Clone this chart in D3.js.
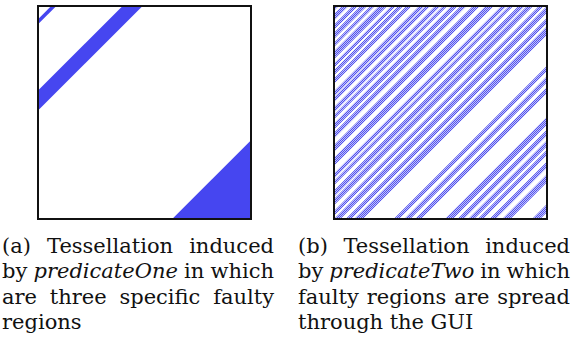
<!DOCTYPE html>
<html>
<head>
<meta charset="utf-8">
<script src="https://cdn.jsdelivr.net/npm/d3@7/dist/d3.min.js"></script>
<style>
  html, body { margin: 0; padding: 0; background: #fff; }
  svg { display: block; }
</style>
</head>
<body>
<script>
// ---- data: faulty bands in the unit square, expressed as ranges of (x + y) ----
const bandsOne = [[0.062, 0.086], [0.397, 0.491], [1.630, 2.000]];
const bandsTwo = [
  [0.000, 0.022], [0.038, 0.068], [0.088, 0.112], [0.125, 0.155], [0.172, 0.192],
  [0.212, 0.250], [0.270, 0.290], [0.302, 0.325], [0.340, 0.365], [0.400, 0.425],
  [0.430, 0.452], [0.475, 0.500], [0.512, 0.532], [0.552, 0.580], [0.595, 0.622],
  [0.652, 0.685], [0.712, 0.750], [0.786, 0.810], [0.822, 0.842], [0.866, 0.895],
  [0.906, 0.935], [0.962, 0.985],
  [1.000, 1.030], [1.055, 1.080], [1.095, 1.135], [1.280, 1.305], [1.330, 1.358],
  [1.380, 1.408], [1.520, 1.558], [1.580, 1.608], [1.630, 1.658], [1.675, 1.700],
  [1.730, 1.758], [1.790, 1.828], [1.930, 1.968]
];
const captionOne = [
  [["(a)", false], ["Tessellation", false], ["induced", false]],
  [["by", false], ["predicateOne", true], ["in", false], ["which", false]],
  [["are", false], ["three", false], ["specific", false], ["faulty", false]],
  [["regions", false]]
];
const captionTwo = [
  [["(b)", false], ["Tessellation", false], ["induced", false]],
  [["by", false], ["predicateTwo", true], ["in", false], ["which", false]],
  [["faulty", false], ["regions", false], ["are", false], ["spread", false]],
  [["through", false], ["the", false], ["GUI", false]]
];

const W = 576, H = 342;
const svg = d3.select("body").append("svg").attr("width", W).attr("height", H);
const defs = svg.append("defs");

// dotted texture of the second tessellation
const pat = defs.append("pattern").attr("id", "dots")
  .attr("patternUnits", "userSpaceOnUse").attr("width", 2).attr("height", 2);
pat.append("rect").attr("width", 2).attr("height", 2).attr("fill", "#c2c2fa");
pat.append("rect").attr("x", 0).attr("y", 0).attr("width", 1).attr("height", 1).attr("fill", "#5252ee");
pat.append("rect").attr("x", 1).attr("y", 1).attr("width", 1).attr("height", 1).attr("fill", "#5252ee");

function panel(id, x0, y0, size, bands, fill) {
  const x = d3.scaleLinear().domain([0, 1]).range([x0, x0 + size]);
  const y = d3.scaleLinear().domain([0, 1]).range([y0, y0 + size]);
  defs.append("clipPath").attr("id", id)
    .append("rect").attr("x", x(0)).attr("y", y(0))
    .attr("width", x(1) - x(0)).attr("height", y(1) - y(0));
  const g = svg.append("g");
  g.append("rect").attr("x", x(0)).attr("y", y(0))
    .attr("width", x(1) - x(0)).attr("height", y(1) - y(0)).attr("fill", "#fff");
  const line = d3.line().x(p => x(p[0])).y(p => y(p[1]));
  g.append("g").attr("clip-path", `url(#${id})`)
    .selectAll("path").data(bands).join("path")
    .attr("d", ([c0, c1]) => line([[c0 + 1, -1], [c1 + 1, -1], [-1, c1 + 1], [-1, c0 + 1]]) + "Z")
    .attr("fill", fill);
  g.append("rect").attr("x", x(0)).attr("y", y(0))
    .attr("width", x(1) - x(0)).attr("height", y(1) - y(0))
    .attr("fill", "none").attr("stroke", "#111").attr("stroke-width", 2);
}

panel("clipOne", 38, 6, 213, bandsOne, "#4646f0");
panel("clipTwo", 334, 6, 213, bandsTwo, "url(#dots)");

function caption(lines, xl, xr, baselines) {
  const g = svg.append("g")
    .attr("font-family", "'DejaVu Serif', serif")
    .attr("font-size", 21).attr("fill", "#111");
  lines.forEach((words, i) => {
    const nodes = words.map(([t, it]) => g.append("text")
      .attr("y", baselines[i])
      .attr("font-style", it ? "italic" : "normal")
      .text(t));
    const widths = nodes.map(n => n.node().getComputedTextLength());
    const total = d3.sum(widths);
    const last = i === lines.length - 1;
    let gap = last || words.length < 2 ? 6.5 : (xr - xl - total) / (words.length - 1);
    if (gap < 3) gap = 3;
    let cx = xl;
    nodes.forEach((n, k) => { n.attr("x", cx); cx += widths[k] + gap; });
  });
}

const baselines = [253, 278.3, 303.6, 329];
caption(captionOne, 2, 274, baselines);
caption(captionTwo, 298, 570, baselines);
</script>
</body>
</html>
